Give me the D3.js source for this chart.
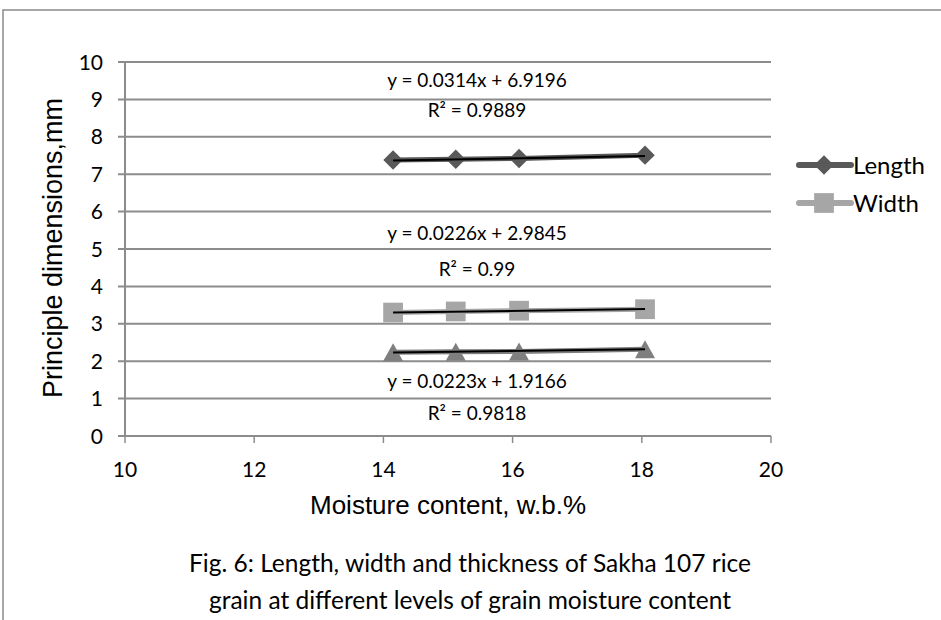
<!DOCTYPE html>
<html>
<head>
<meta charset="utf-8">
<script src="https://cdn.jsdelivr.net/npm/d3@7"></script>
<style>
  body { margin: 0; background: #fff; }
  svg text { fill: #000; }
</style>
</head>
<body>
<svg id="chart" width="941" height="620"></svg>
<script>
const moisture = [14.15, 15.12, 16.1, 18.05];
const lengthVals = [7.38, 7.40, 7.42, 7.51];
const widthVals = [3.30, 3.33, 3.35, 3.39];
const thickVals = [2.24, 2.25, 2.26, 2.32];

const xTicks = [10, 12, 14, 16, 18, 20];
const yTicks = [0, 1, 2, 3, 4, 5, 6, 7, 8, 9, 10];

const trendLabels = [
  { eq: 'y = 0.0314x + 6.9196', r2: 'R² = 0.9889', slope: 0.0314, icpt: 6.9196 },
  { eq: 'y = 0.0226x + 2.9845', r2: 'R² = 0.99', slope: 0.0226, icpt: 2.9845 },
  { eq: 'y = 0.0223x + 1.9166', r2: 'R² = 0.9818', slope: 0.0223, icpt: 1.9166 }
];

const DARK = '#595959';
const LIGHT = '#A6A6A6';
const MID = '#7F7F7F';
const GRID = '#8C8C8C';
const FONT = 'Lato, "Open Sans", sans-serif';
const SANS = '"Liberation Sans", Arial, sans-serif';

// Excel style markers, centred on their bounding box
const diamond = {
  draw(ctx, size) {
    const r = Math.sqrt(size / 2);
    ctx.moveTo(0, -r); ctx.lineTo(r, 0); ctx.lineTo(0, r); ctx.lineTo(-r, 0); ctx.closePath();
  }
};
const triangle = {
  draw(ctx, size) {
    const w = Math.sqrt(size * 2 / 0.9);
    const h = w * 0.9;
    ctx.moveTo(0, -h / 2); ctx.lineTo(w / 2, h / 2); ctx.lineTo(-w / 2, h / 2); ctx.closePath();
  }
};

const svg = d3.select('#chart');

// outer frame
svg.append('path')
  .attr('d', 'M3,620 L3,10 L941,10')
  .attr('fill', 'none')
  .attr('stroke', '#8a8a8a')
  .attr('stroke-width', 1.5);

const x = d3.scaleLinear().domain([10, 20]).range([125, 771]);
const y = d3.scaleLinear().domain([0, 10]).range([436, 62]);

// grid
svg.append('g')
  .selectAll('line')
  .data(yTicks)
  .join('line')
    .attr('x1', x(10) - 7)
    .attr('x2', x(20))
    .attr('y1', d => y(d))
    .attr('y2', d => y(d))
    .attr('stroke', GRID)
    .attr('stroke-width', 2);

svg.append('line')
  .attr('x1', x(10)).attr('x2', x(10))
  .attr('y1', y(10)).attr('y2', y(0))
  .attr('stroke', GRID).attr('stroke-width', 2);

svg.append('g')
  .selectAll('line')
  .data(xTicks)
  .join('line')
    .attr('x1', d => x(d)).attr('x2', d => x(d))
    .attr('y1', y(0)).attr('y2', y(0) + 7)
    .attr('stroke', GRID).attr('stroke-width', 1.5);

svg.append('g')
  .selectAll('text')
  .data(yTicks)
  .join('text')
    .attr('x', x(10) - 22)
    .attr('y', d => y(d))
    .attr('dy', '0.36em')
    .attr('text-anchor', 'end')
    .style('font-family', FONT)
    .style('font-size', '21px')
    .text(d => d);

svg.append('g')
  .selectAll('text')
  .data(xTicks)
  .join('text')
    .attr('x', d => x(d))
    .attr('y', y(0) + 41)
    .attr('text-anchor', 'middle')
    .style('font-family', FONT)
    .style('font-size', '21px')
    .text(d => d);

svg.append('text')
  .attr('x', 448)
  .attr('y', 514)
  .attr('text-anchor', 'middle')
  .style('font-family', SANS)
  .style('font-size', '26px')
  .text('Moisture content, w.b.%');

svg.append('text')
  .attr('transform', 'translate(62,248) rotate(-90)')
  .attr('text-anchor', 'middle')
  .style('font-family', SANS)
  .style('font-size', '27px')
  .text('Principle dimensions,mm');

// series
const series = [
  { name: 'Length', vals: lengthVals, color: DARK, shape: diamond, size: 190 },
  { name: 'Width', vals: widthVals, color: LIGHT, shape: d3.symbolSquare, size: 390 },
  { name: 'Thickness', vals: thickVals, color: MID, shape: triangle, size: 180 }
];

const line = d3.line()
  .x(d => x(d[0]))
  .y(d => y(d[1]));

series.forEach((s, i) => {
  const pts = moisture.map((m, j) => [m, s.vals[j]]);
  svg.append('path')
    .attr('d', line(pts))
    .attr('fill', 'none')
    .attr('stroke', s.color)
    .attr('stroke-width', 5);

  svg.append('g')
    .selectAll('path')
    .data(pts)
    .join('path')
      .attr('transform', d => `translate(${x(d[0])},${y(d[1])})`)
      .attr('d', d3.symbol().type(s.shape).size(s.size))
      .attr('fill', s.color);

  const t = trendLabels[i];
  const x0 = moisture[0];
  const x1 = moisture[moisture.length - 1];
  svg.append('line')
    .attr('x1', x(x0)).attr('x2', x(x1))
    .attr('y1', y(t.slope * x0 + t.icpt))
    .attr('y2', y(t.slope * x1 + t.icpt))
    .attr('stroke', '#000')
    .attr('stroke-width', 2);
});

// trendline labels
const labelPos = [[477, 87, 117], [477, 240, 276], [477, 388, 420]];
trendLabels.forEach((t, i) => {
  const [lx, ey, ry] = labelPos[i];
  svg.append('text')
    .attr('x', lx).attr('y', ey)
    .attr('text-anchor', 'middle')
    .style('font-family', FONT)
    .style('font-size', '19px')
    .text(t.eq);
  svg.append('text')
    .attr('x', lx).attr('y', ry)
    .attr('text-anchor', 'middle')
    .style('font-family', FONT)
    .style('font-size', '19px')
    .text(t.r2);
});

// legend
const legend = svg.append('g');
series.slice(0, 2).forEach((s, i) => {
  const ly = 165 + i * 38;
  legend.append('line')
    .attr('x1', 799).attr('x2', 851)
    .attr('y1', ly).attr('y2', ly)
    .attr('stroke', s.color)
    .attr('stroke-width', 6)
    .attr('stroke-linecap', 'round');
  legend.append('path')
    .attr('transform', `translate(824,${ly})`)
    .attr('d', d3.symbol().type(s.shape).size(s.size))
    .attr('fill', s.color);
  legend.append('text')
    .attr('x', 853).attr('y', ly)
    .attr('dy', '0.36em')
    .style('font-family', FONT)
    .style('font-size', '24px')
    .text(s.name);
});

// caption
const caption = [
  'Fig. 6: Length, width and thickness of Sakha 107 rice',
  'grain at different levels of grain moisture content'
];
svg.append('g')
  .selectAll('text')
  .data(caption)
  .join('text')
    .attr('x', 470)
    .attr('y', (d, i) => 572 + i * 37)
    .attr('text-anchor', 'middle')
    .style('font-family', FONT)
    .style('font-size', '24.5px')
    .text(d => d);
</script>
</body>
</html>
